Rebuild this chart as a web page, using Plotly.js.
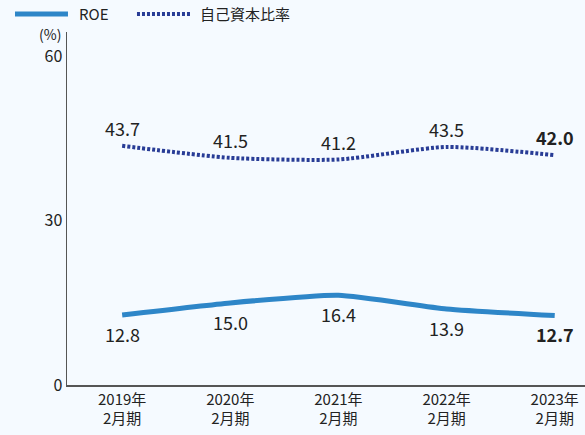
<!DOCTYPE html>
<html><head><meta charset="utf-8">
<script src="https://cdn.plot.ly/plotly-3.0.1.min.js"></script>
<style>html,body{margin:0;padding:0;background:#f5faff;}</style>
</head><body><div id="chart" style="width:585px;height:435px;"></div>
<script>
const categories = ["2019年<br>2月期","2020年<br>2月期","2021年<br>2月期","2022年<br>2月期","2023年<br>2月期"];
const roe = [12.8, 15.0, 16.4, 13.9, 12.7];
const equityRatio = [43.7, 41.5, 41.2, 43.5, 42.0];
const roeLabels = ["12.8","15.0","16.4","13.9","<b>12.7</b>"];
const equityLabels = ["43.7","41.5","41.2","43.5","<b>42.0</b>"];
const seriesNames = ["ROE", "自己資本比率"];
const FONT = "Noto Sans CJK JP, Noto Sans, sans-serif";
const ROE_COLOR = "#2e86c8", EQ_COLOR = "#283c96", EQ_DASH = "3px,2px";
const data = [
  {x: categories, y: roe, name: seriesNames[0], type: "scatter", mode: "lines",
   line: {color: ROE_COLOR, width: 5, shape: "spline", smoothing: 0.5}},
  {x: categories, y: equityRatio, name: seriesNames[1], type: "scatter", mode: "lines",
   line: {color: EQ_COLOR, width: 4, dash: EQ_DASH, shape: "spline", smoothing: 0.6}}
];
const annotations = [{text: "(%)", xref: "paper", yref: "paper", x: -0.008, y: 1.0,
                 xanchor: "right", yanchor: "middle", yshift: -2, showarrow: false,
                 font: {size: 14, family: FONT, color: "#222"}}];
categories.forEach((c, i) => {
  annotations.push({x: c, y: roe[i], xref: "x", yref: "y", text: roeLabels[i],
    showarrow: false, yanchor: "middle", yshift: -19,
    font: {size: 18, family: FONT, color: "#222"}});
  annotations.push({x: c, y: equityRatio[i], xref: "x", yref: "y", text: equityLabels[i],
    showarrow: false, yanchor: "middle", yshift: 18,
    font: {size: 18, family: FONT, color: "#222"}});
});
// custom legend (paper coordinates)
const legY = 1.051;
annotations.push({text: seriesNames[0], xref: "paper", yref: "paper", x: 0.0193, y: legY,
  xanchor: "left", yanchor: "middle", showarrow: false, font: {size: 15, family: FONT, color: "#222"}});
annotations.push({text: seriesNames[1], xref: "paper", yref: "paper", x: 0.2529, y: legY,
  xanchor: "left", yanchor: "middle", showarrow: false, font: {size: 15, family: FONT, color: "#222"}});
const shapes = [
  {type: "line", xref: "paper", yref: "paper", x0: -0.1004, x1: 0.0019, y0: legY, y1: legY,
   line: {color: ROE_COLOR, width: 5}},
  {type: "line", xref: "paper", yref: "paper", x0: 0.1351, x1: 0.2375, y0: legY, y1: legY,
   line: {color: EQ_COLOR, width: 4, dash: EQ_DASH}}
];
const layout = {
  width: 585, height: 435,
  margin: {l: 67, r: 0, t: 32, b: 50},
  paper_bgcolor: "#f5faff", plot_bgcolor: "#f5faff",
  font: {family: FONT, color: "#222", size: 14},
  showlegend: false,
  xaxis: {type: "category", range: [-0.51, 4.28], showgrid: false, zeroline: false,
          showline: true, linecolor: "#555", linewidth: 1.5, ticks: "",
          tickfont: {size: 15, family: FONT, color: "#222"}},
  yaxis: {range: [0, 64.5], tickvals: [0, 30, 60], showgrid: false, zeroline: false,
          showline: true, linecolor: "#555", linewidth: 1.5, ticks: "",
          tickfont: {size: 16, family: FONT, color: "#222"}},
  annotations: annotations,
  shapes: shapes
};
Plotly.newPlot("chart", data, layout, {displayModeBar: false, staticPlot: true});
</script></body></html>
